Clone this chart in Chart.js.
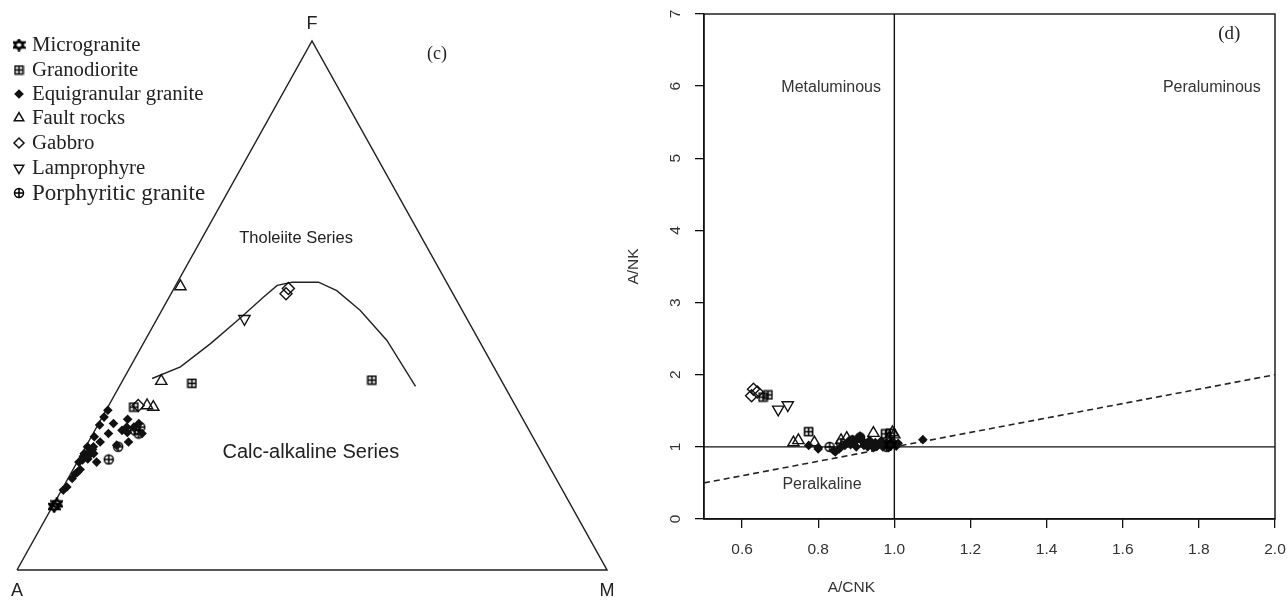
<!DOCTYPE html>
<html>
<head>
<meta charset="utf-8">
<script src="https://cdn.jsdelivr.net/npm/chart.js@4.4.1/dist/chart.umd.min.js"></script>
<style>
    html, body { margin: 0; padding: 0; background: #fff; }
    #wrap { position: relative; width: 1287px; height: 600px; overflow: hidden; }
    #afm { position: absolute; left: 0; top: 0; }
    #acnk { position: absolute; left: 600px; top: 0; }
</style>
</head>
<body>
<div id="wrap">
    <canvas id="afm" width="640" height="600"></canvas>
    <canvas id="acnk" width="687" height="600"></canvas>
</div>
<script>
// ---------- (c) AFM ternary, points as [A, F, M] ----------
const afmBoundary = [
    [59.0, 36.2, 4.8], [53.1, 38.4, 8.5], [45.8, 42.8, 11.4], [38.4, 47.6, 14.0],
    [32.4, 51.6, 16.0], [29.0, 53.8, 17.2], [26.2, 54.4, 19.4], [21.7, 54.4, 23.9],
    [19.4, 52.8, 27.8], [17.3, 49.1, 33.6], [15.6, 43.4, 41.0], [15.1, 34.7, 50.2]
];
const afmMicrogranite = [[87.7, 12.0, 0.3], [87.0, 12.5, 0.5]];
const afmGranodiorite = [[52.7, 35.3, 12.0], [21.9, 35.9, 42.2], [64.8, 30.8, 4.4]];
const afmEquigranular = [
    [69.5, 30.2, 0.3], [72.3, 27.4, 0.3], [69.8, 27.7, 2.5], [74.3, 25.2, 0.5],
    [71.6, 25.8, 2.6], [76.4, 23.3, 0.3], [77.6, 22.0, 0.4], [79.3, 20.4, 0.3],
    [76.3, 20.4, 3.3], [75.4, 23.3, 1.3], [73.8, 24.2, 2.0], [82.0, 17.3, 0.7],
    [83.7, 15.7, 0.6], [84.6, 15.1, 0.3], [69.0, 26.4, 4.6], [69.0, 24.2, 6.8],
    [67.9, 27.0, 5.1], [71.3, 23.6, 5.1], [66.7, 27.0, 6.3], [65.5, 27.7, 6.8],
    [65.9, 25.8, 8.3], [78.0, 21.5, 0.5], [77.0, 22.0, 1.0], [78.5, 20.8, 0.7],
    [76.8, 21.8, 1.4], [75.8, 22.8, 1.4], [79.8, 19.0, 1.2], [80.5, 18.5, 1.0],
    [81.0, 18.2, 0.8], [70.8, 28.9, 0.3], [77.5, 21.0, 1.5], [76.0, 22.0, 2.0],
    [67.0, 28.5, 4.5], [68.3, 26.0, 5.7]
];
const afmFaultRocks = [[45.5, 53.6, 0.9], [57.7, 35.7, 6.6], [62.4, 31.1, 6.5], [61.5, 30.8, 7.7]];
const afmGabbro = [[28.3, 52.2, 19.5], [27.4, 53.2, 19.4], [63.9, 31.1, 5.0]];
const afmLamprophyre = [[37.7, 47.5, 14.8]];
const afmPorphyritic = [[71.2, 23.3, 5.5], [74.0, 20.9, 5.1], [66.8, 26.4, 6.8], [65.6, 27.0, 7.4], [66.5, 25.8, 7.7]];

// ---------- (d) A/CNK vs A/NK, points as [A/CNK, A/NK] ----------
const acnkMicrogranite = [[0.99, 1.03]];
const acnkGranodiorite = [[0.655, 1.69], [0.668, 1.72], [0.775, 1.21], [0.977, 1.18], [0.99, 1.19]];
const acnkEquigranular = [
    [0.775, 1.02], [0.80, 0.99], [0.80, 0.97], [0.84, 0.95], [0.845, 0.93], [0.855, 0.97],
    [0.86, 1.00], [0.87, 1.02], [0.875, 1.05], [0.88, 1.08], [0.885, 1.03], [0.89, 1.10],
    [0.895, 1.06], [0.90, 1.00], [0.905, 1.12], [0.91, 1.15], [0.915, 1.08], [0.92, 1.02],
    [0.925, 1.05], [0.93, 1.00], [0.935, 1.09], [0.94, 1.03], [0.945, 0.99], [0.95, 1.06],
    [0.955, 1.01], [0.96, 1.04], [0.965, 1.08], [0.97, 1.00], [0.975, 1.03], [0.98, 1.06],
    [0.985, 0.99], [0.99, 1.02], [0.995, 1.08], [1.00, 1.04], [1.005, 1.01], [1.01, 1.05],
    [1.075, 1.10]
];
const acnkFaultRocks = [[0.735, 1.06], [0.748, 1.09], [0.79, 1.06], [0.86, 1.09], [0.875, 1.12], [0.945, 1.19], [0.995, 1.20], [1.00, 1.17]];
const acnkGabbro = [[0.63, 1.80], [0.625, 1.71], [0.64, 1.76]];
const acnkLamprophyre = [[0.695, 1.52], [0.72, 1.58]];
const acnkPorphyritic = [[0.83, 1.00], [0.86, 1.05], [0.89, 1.09], [0.91, 1.13], [0.97, 1.05], [0.98, 1.00]];

const acnkDivide = [[1.0, 0], [1.0, 7]];
const ankDivide = [[0.5, 1], [2.0, 1]];
const peralkalineLine = [[0.5, 0.5], [2.0, 2.0]];
const xTicks = [0.6, 0.8, 1.0, 1.2, 1.4, 1.6, 1.8, 2.0];
const yTicks = [0, 1, 2, 3, 4, 5, 6, 7];

const rockTypes = ['Microgranite', 'Granodiorite', 'Equigranular granite', 'Fault rocks', 'Gabbro', 'Lamprophyre', 'Porphyritic granite'];
const afmGroups = [afmMicrogranite, afmGranodiorite, afmEquigranular, afmFaultRocks, afmGabbro, afmLamprophyre, afmPorphyritic];
const acnkGroups = [acnkMicrogranite, acnkGranodiorite, acnkEquigranular, acnkFaultRocks, acnkGabbro, acnkLamprophyre, acnkPorphyritic];

const ink = '#111';
const serif = "'Liberation Serif', 'Times New Roman', serif";
const sans = "'Liberation Sans', Arial, sans-serif";

// simbolos tipo R (pch 10, 11, 12)
const simbolo = (tipo, size, lw) => {
    const c = document.createElement('canvas');
    c.width = c.height = size;
    const g = c.getContext('2d');
    g.strokeStyle = '#000';
    g.lineWidth = lw;
    const m = size / 2;
    g.beginPath();
    if (tipo === 'cuadroMas') {
        g.rect(1.5, 1.5, size - 3, size - 3);
        g.moveTo(m, 1.5); g.lineTo(m, size - 1.5);
        g.moveTo(1.5, m); g.lineTo(size - 1.5, m);
    } else if (tipo === 'estrella') {
        const h = (size - 2) * 0.75;
        g.moveTo(m, 1); g.lineTo(size - 1, 1 + h); g.lineTo(1, 1 + h); g.closePath();
        g.moveTo(m, size - 1); g.lineTo(size - 1, size - 1 - h); g.lineTo(1, size - 1 - h); g.closePath();
    } else {
        g.arc(m, m, m - 1.5, 0, Math.PI * 2);
        g.moveTo(m, 1); g.lineTo(m, size - 1);
        g.moveTo(1, m); g.lineTo(size - 1, m);
    }
    g.stroke();
    return c;
};

const estilos = [
    { pointStyle: simbolo('estrella', 13, 2), radius: 6 },
    { pointStyle: simbolo('cuadroMas', 11, 1.6), radius: 6 },
    { pointStyle: 'rectRot', radius: 4.8, fill: ink },
    { pointStyle: 'triangle', radius: 6.5 },
    { pointStyle: 'rectRot', radius: 6 },
    { pointStyle: 'triangle', radius: 6.5, rotation: 180 },
    { pointStyle: simbolo('circuloMas', 12, 1.5), radius: 6 }
];

const opcionesPunto = (i) => ({
    pointStyle: estilos[i].pointStyle,
    pointRadius: estilos[i].radius,
    pointRotation: estilos[i].rotation || 0,
    pointBackgroundColor: estilos[i].fill || 'rgba(0,0,0,0)',
    pointBorderColor: ink,
    pointBorderWidth: estilos[i].fill ? 0 : 1.4,
    clip: false
});

const aXY = ([a, f, m]) => ({ x: m + f / 2, y: f });
const aPunto = ([x, y]) => ({ x, y });

// ---------- grafico (c) ----------
const textoAFM = {
    id: 'textoAFM',
    afterDraw(chart) {
        const { ctx, scales: { x, y } } = chart;
        const px = v => x.getPixelForValue(v);
        const py = v => y.getPixelForValue(v);
        ctx.save();
        ctx.fillStyle = '#222';
        ctx.textAlign = 'center';
        ctx.textBaseline = 'middle';
        ctx.font = `18px ${sans}`;
        ctx.fillText('F', px(50), py(100) - 17);
        ctx.fillText('A', px(0), py(0) + 21);
        ctx.fillText('M', px(100), py(0) + 21);
        ctx.font = `16.5px ${sans}`;
        ctx.fillText('Tholeiite Series', px(47.3), py(62.6));
        ctx.font = `20px ${sans}`;
        ctx.fillText('Calc-alkaline Series', px(49.8), py(22.3));
        ctx.font = `18px ${serif}`;
        ctx.fillText('(c)', px(71.2), py(97.4));

        // leyenda
        const filas = [45, 70, 94, 118, 143, 168, 193];
        ctx.textAlign = 'left';
        rockTypes.forEach((nombre, i) => {
            const e = estilos[i];
            ctx.fillStyle = e.fill || 'rgba(0,0,0,0)';
            ctx.strokeStyle = ink;
            ctx.lineWidth = 1.5;
            const r = typeof e.pointStyle === 'string' ? e.radius - 1 : e.radius;
            Chart.helpers.drawPoint(ctx, { pointStyle: e.pointStyle, radius: r, rotation: e.rotation || 0, borderWidth: 1.5 }, 19, filas[i]);
            ctx.fillStyle = '#222';
            ctx.font = (i === 6 ? '23px ' : '20.8px ') + serif;
            ctx.fillText(nombre, 32, filas[i] + 1);
        });
        ctx.restore();
    }
};

new Chart(document.getElementById('afm'), {
    type: 'scatter',
    data: {
        datasets: [
            ...rockTypes.map((nombre, i) => ({ label: nombre, data: afmGroups[i].map(aXY), ...opcionesPunto(i) })),
            {
                label: 'boundary', data: afmBoundary.map(aXY), showLine: true,
                borderColor: '#222', borderWidth: 1.4, pointRadius: 0, clip: false
            },
            {
                label: 'frame', data: [[100, 0, 0], [0, 100, 0], [0, 0, 100], [100, 0, 0]].map(aXY), showLine: true,
                borderColor: '#222', borderWidth: 1.5, pointRadius: 0, clip: false
            }
        ]
    },
    options: {
        responsive: false,
        animation: false,
        events: [],
        layout: { padding: { left: 17, right: 33, top: 41, bottom: 30 } },
        plugins: { legend: { display: false }, tooltip: { enabled: false } },
        scales: {
            x: { type: 'linear', min: 0, max: 100, display: false },
            y: { type: 'linear', min: 0, max: 100, display: false }
        }
    },
    plugins: [textoAFM]
});

// ---------- grafico (d) ----------
const textoACNK = {
    id: 'textoACNK',
    beforeDatasetsDraw(chart) {
        const { ctx, chartArea: a } = chart;
        ctx.save();
        ctx.strokeStyle = ink;
        ctx.lineWidth = 1.4;
        ctx.strokeRect(a.left, a.top, a.right - a.left, a.bottom - a.top);
        ctx.restore();
    },
    afterDraw(chart) {
        const { ctx, scales: { x, y } } = chart;
        ctx.save();
        ctx.fillStyle = '#333';
        ctx.textAlign = 'center';
        ctx.textBaseline = 'middle';
        ctx.font = `15.5px ${sans}`;
        yTicks.forEach(v => {
            ctx.save();
            ctx.translate(76, y.getPixelForValue(v));
            ctx.rotate(-Math.PI / 2);
            ctx.fillText(String(v), 0, 0);
            ctx.restore();
        });
        // titulo del eje x (desplazado a la izquierda como en el original)
        ctx.fillText('A/CNK', x.getPixelForValue(0.887), 588);
        ctx.font = `16px ${sans}`;
        ctx.fillText('Metaluminous', x.getPixelForValue(0.834), y.getPixelForValue(5.98));
        ctx.fillText('Peraluminous', x.getPixelForValue(1.834), y.getPixelForValue(5.98));
        ctx.fillText('Peralkaline', x.getPixelForValue(0.81), y.getPixelForValue(0.47));
        ctx.fillStyle = '#222';
        ctx.font = `19px ${serif}`;
        ctx.fillText('(d)', x.getPixelForValue(1.88), y.getPixelForValue(6.72));
        ctx.restore();
    }
};

new Chart(document.getElementById('acnk'), {
    type: 'scatter',
    data: {
        datasets: [
            ...rockTypes.map((nombre, i) => ({ label: nombre, data: acnkGroups[i].map(aPunto), ...opcionesPunto(i) })),
            { label: 'ACNK=1', data: acnkDivide.map(aPunto), showLine: true, borderColor: ink, borderWidth: 1.4, pointRadius: 0 },
            { label: 'ANK=1', data: ankDivide.map(aPunto), showLine: true, borderColor: ink, borderWidth: 1.4, pointRadius: 0 },
            { label: 'peralkaline', data: peralkalineLine.map(aPunto), showLine: true, borderColor: '#222', borderWidth: 1.6, borderDash: [6, 4], pointRadius: 0 }
        ]
    },
    options: {
        responsive: false,
        animation: false,
        events: [],
        layout: { padding: { left: 20, right: 12, top: 14, bottom: 0 } },
        plugins: { legend: { display: false }, tooltip: { enabled: false } },
        scales: {
            x: {
                type: 'linear', min: 0.5, max: 2.0,
                afterBuildTicks: s => { s.ticks = xTicks.map(v => ({ value: v })); },
                afterFit: s => { s.height = 81; s.paddingLeft = 0; s.paddingRight = 0; },
                ticks: { callback: v => Number(v).toFixed(1), color: '#333', font: { family: sans, size: 15.5 }, padding: 12, maxRotation: 0, autoSkip: false },
                grid: { drawOnChartArea: false, color: ink, tickLength: 9, lineWidth: 1.3 },
                border: { color: ink, width: 1.4 },
                title: { display: false }
            },
            y: {
                type: 'linear', min: 0, max: 7,
                afterBuildTicks: s => { s.ticks = yTicks.map(v => ({ value: v })); },
                afterFit: s => { s.width = 84; s.paddingTop = 0; s.paddingBottom = 0; },
                ticks: { display: false },
                grid: { drawOnChartArea: false, color: ink, tickLength: 9, lineWidth: 1.3 },
                border: { color: ink, width: 1.4 },
                title: { display: true, text: 'A/NK', color: '#333', font: { family: sans, size: 15.5 }, padding: { top: 4, bottom: 0 } }
            }
        }
    },
    plugins: [textoACNK]
});
</script>
</body>
</html>
